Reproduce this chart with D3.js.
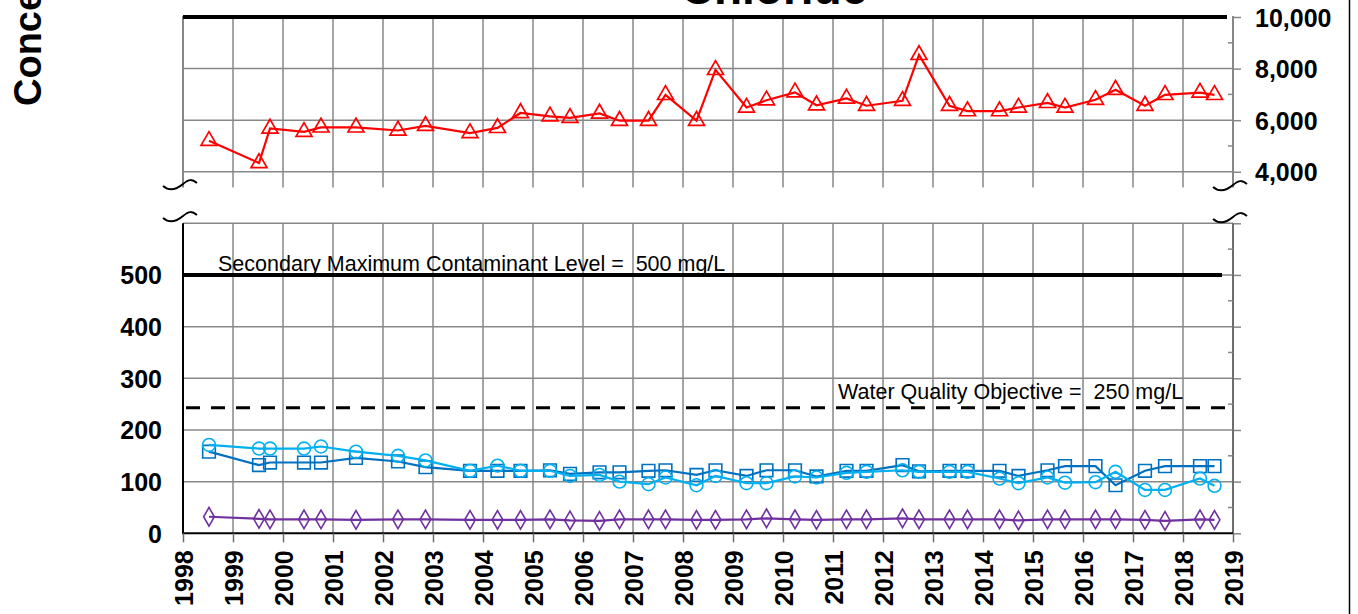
<!DOCTYPE html>
<html><head><meta charset="utf-8">
<script src="https://cdn.jsdelivr.net/npm/d3@7"></script>
<style>
body{margin:0;background:#fff;}
svg{display:block;font-family:Arial,"Liberation Sans",sans-serif;}
</style></head><body>
<svg id="c" width="1358" height="614"></svg>
<script>
// ---------------- data ----------------
const years = d3.range(1998, 2020);
const sampleDates = [1998.52, 1999.52, 1999.74, 2000.42, 2000.76, 2001.46, 2002.30, 2002.85, 2003.74, 2004.29,
  2004.75, 2005.34, 2005.74, 2006.33, 2006.73, 2007.31, 2007.65, 2008.27, 2008.65, 2009.27,
  2009.67, 2010.24, 2010.67, 2011.27, 2011.67, 2012.39, 2012.72, 2013.33, 2013.69, 2014.33,
  2014.71, 2015.29, 2015.64, 2016.25, 2016.65, 2017.24, 2017.64, 2018.34, 2018.63];
const redTriangles = [5200, 4340, 5680, 5550, 5720, 5720, 5600, 5780, 5500, 5700,
  6280, 6150, 6090, 6260, 5980, 5980, 6980, 5980, 7950, 6490,
  6770, 7080, 6580, 6840, 6560, 6750, 8530, 6560, 6350, 6350,
  6490, 6670, 6490, 6790, 7180, 6560, 6980, 7070, 6980];
const blueSquares = [158, 132, 137, 137, 137, 146, 139, 128, 121, 121,
  121, 122, 115, 118, 118, 121, 122, 113, 122, 111,
  122, 122, 110, 121, 121, 132, 120, 121, 121, 121,
  111, 122, 130, 130, 93, 121, 130, 130, 130];
const cyanCircles = [171, 164, 164, 164, 168, 158, 150, 141, 121, 131,
  121, 121, 111, 113, 100, 95, 108, 93, 111, 97,
  97, 110, 108, 117, 119, 122, 119, 119, 119, 106,
  97, 108, 98, 99, 119, 84, 84, 106, 92];
const purpleDiamonds = [32, 28, 27, 27, 27, 26, 27, 27, 26, 26,
  26, 27, 25, 24, 27, 27, 27, 26, 26, 27,
  29, 27, 26, 27, 27, 29, 27, 27, 27, 27,
  25, 27, 27, 27, 27, 26, 24, 27, 26];
const topTickValues = [4000, 6000, 8000, 10000];
const topMinorValues = [5000, 7000, 9000];
const bottomTickValues = [0, 100, 200, 300, 400, 500];
const bottomGridValues = [100, 200, 300, 400, 500, 600];
const bottomMinorValues = [50, 150, 250, 350, 450, 550];
const smclValue = 500;
const wqoLineValue = 243;
const topLineValue = 10000;
const smclLabel = "Secondary Maximum Contaminant Level =  500 mg/L";
const wqoLabel = "Water Quality Objective =  250 mg/L";
const titleText = "Chloride";
const yTitleText = "Concentration, in milligrams per liter";

// ---------------- layout ----------------
const svg = d3.select("#c");
const X0 = 183, X1 = 1233;
const x = d3.scaleLinear().domain([1998, 2019]).range([X0, X1]);
const yTop = d3.scaleLinear().domain([3390, 10000]).range([187.5, 17]);
const yBot = d3.scaleLinear().domain([0, 600]).range([533.3, 223.3]);
const GRID = "#878787";
const font = 'Arial,"Liberation Sans",sans-serif';

// title (mostly cut off at top, as in the source figure)
svg.append("text").attr("x", 774).attr("y", 4).attr("text-anchor", "middle")
  .attr("font-size", 46).attr("font-weight", "bold").text(titleText);
// y title
svg.append("text").attr("transform", "translate(41,106) rotate(-90)")
  .attr("font-size", 38).attr("font-weight", "bold").text(yTitleText);

// ---------- top panel grid ----------
const gTop = svg.append("g");
gTop.selectAll("line.hg").data(topTickValues.filter(v => v < 10000)).join("line")
  .attr("x1", X0).attr("x2", X1).attr("y1", d => yTop(d)).attr("y2", d => yTop(d))
  .attr("stroke", GRID).attr("stroke-width", 1.5);
gTop.selectAll("line.vg").data(years.slice(1, -1)).join("line")
  .attr("x1", d => x(d)).attr("x2", d => x(d)).attr("y1", yTop(10000)).attr("y2", 187.5)
  .attr("stroke", GRID).attr("stroke-width", 1.5);
gTop.append("line").attr("x1", X0).attr("x2", X0).attr("y1", yTop(10000) - 1).attr("y2", 187.5)
  .attr("stroke", GRID).attr("stroke-width", 2);
const topAxis = svg.append("g").attr("transform", `translate(${X1},0)`)
  .call(d3.axisRight(yTop).tickValues(topTickValues).tickSize(8).tickPadding(14)
    .tickFormat(d3.format(",")));
topAxis.select(".domain").remove();
topAxis.append("line").attr("x1", 0).attr("x2", 0).attr("y1", yTop(10000) - 1).attr("y2", 187.5)
  .attr("stroke", GRID).attr("stroke-width", 2);
topAxis.selectAll(".tick line").attr("stroke", GRID).attr("stroke-width", 1.5);
topAxis.selectAll(".tick text").attr("font-size", 25).attr("font-weight", "bold")
  .attr("font-family", font).attr("fill", "#000").attr("dy", "0.36em");
topAxis.selectAll("line.minor").data(topMinorValues).join("line").attr("class", "minor")
  .attr("x1", -5).attr("x2", 0).attr("y1", d => yTop(d)).attr("y2", d => yTop(d))
  .attr("stroke", GRID).attr("stroke-width", 1.5);
svg.append("line").attr("x1", X0).attr("x2", 1227).attr("y1", yTop(topLineValue)).attr("y2", yTop(topLineValue))
  .attr("stroke", "#000").attr("stroke-width", 4);

// red series
const lineTop = d3.line().x((d, i) => x(sampleDates[i])).y(d => yTop(d));
svg.append("path").datum(redTriangles).attr("d", lineTop).attr("fill", "none")
  .attr("stroke", "#FF0000").attr("stroke-width", 2.2);
const tri = d3.symbol().type(d3.symbolTriangle).size(110);
svg.selectAll("path.tri").data(redTriangles).join("path").attr("class", "tri")
  .attr("d", tri).attr("transform", (d, i) => `translate(${x(sampleDates[i])},${yTop(d)})`)
  .attr("fill", "none").attr("stroke", "#FF0000").attr("stroke-width", 1.7);

// ---------- bottom panel ----------
const gBot = svg.append("g");
gBot.selectAll("line.hg").data(bottomGridValues).join("line")
  .attr("x1", X0).attr("x2", X1).attr("y1", d => yBot(d)).attr("y2", d => yBot(d))
  .attr("stroke", GRID).attr("stroke-width", 1.5);
gBot.selectAll("line.vg").data(years.slice(1, -1)).join("line")
  .attr("x1", d => x(d)).attr("x2", d => x(d)).attr("y1", yBot(600)).attr("y2", yBot(0))
  .attr("stroke", GRID).attr("stroke-width", 1.5);

const botRight = svg.append("g").attr("transform", `translate(${X1},0)`)
  .call(d3.axisRight(yBot).tickValues([0, 100, 200, 300, 400, 500, 600]).tickSize(8).tickFormat(""));
botRight.select(".domain").remove();
botRight.append("line").attr("x1", 0).attr("x2", 0).attr("y1", yBot(600)).attr("y2", yBot(0))
  .attr("stroke", "#6d6d6d").attr("stroke-width", 2);
botRight.selectAll(".tick line").attr("stroke", GRID).attr("stroke-width", 1.5);
botRight.selectAll("line.minor").data(bottomMinorValues).join("line").attr("class", "minor")
  .attr("x1", -5).attr("x2", 0).attr("y1", d => yBot(d)).attr("y2", d => yBot(d))
  .attr("stroke", GRID).attr("stroke-width", 1.5);

const botLeft = svg.append("g").attr("transform", `translate(${X0},0)`)
  .call(d3.axisLeft(yBot).tickValues(bottomTickValues).tickSize(0).tickPadding(21));
botLeft.select(".domain").remove();
botLeft.append("line").attr("x1", 0).attr("x2", 0).attr("y1", yBot(600)).attr("y2", yBot(0) + 1)
  .attr("stroke", "#000").attr("stroke-width", 2);
botLeft.selectAll(".tick text").attr("font-size", 25).attr("font-weight", "bold")
  .attr("font-family", font).attr("fill", "#000").attr("dy", "0.36em");

const xAxis = svg.append("g").attr("transform", `translate(0,${yBot(0)})`)
  .call(d3.axisBottom(x).tickValues(years).tickSize(9).tickFormat(d3.format("d")));
xAxis.select(".domain").attr("stroke", "#000").attr("stroke-width", 2)
  .attr("d", `M${X0},0H${X1}`);
xAxis.selectAll(".tick line").attr("stroke", "#6d6d6d").attr("stroke-width", 1.5);
xAxis.selectAll(".tick text").attr("font-size", 25).attr("font-weight", "bold")
  .attr("font-family", font).attr("fill", "#000")
  .attr("text-anchor", "end").attr("transform", "translate(0,17) rotate(-90)")
  .attr("x", 0).attr("y", 0).attr("dy", "0.36em");

// reference lines
svg.append("line").attr("x1", X0).attr("x2", 1222).attr("y1", yBot(smclValue)).attr("y2", yBot(smclValue))
  .attr("stroke", "#000").attr("stroke-width", 4);
svg.append("line").attr("x1", 186).attr("x2", 1228).attr("y1", yBot(wqoLineValue)).attr("y2", yBot(wqoLineValue))
  .attr("stroke", "#000").attr("stroke-width", 3).attr("stroke-dasharray", "14,11");
svg.append("text").attr("x", 218).attr("y", 271).attr("font-size", 21.5)
  .style("white-space", "pre").text(smclLabel);
svg.append("text").attr("x", 838).attr("y", 399).attr("font-size", 21.5)
  .style("white-space", "pre").text(wqoLabel);

function series(vals, color, symType, size) {
  const ln = d3.line().x((d, i) => x(sampleDates[i])).y(d => yBot(d));
  svg.append("path").datum(vals).attr("d", ln).attr("fill", "none")
    .attr("stroke", color).attr("stroke-width", 2.2);
  const sym = d3.symbol().type(symType).size(size);
  svg.append("g").selectAll("path").data(vals).join("path").attr("d", sym)
    .attr("transform", (d, i) => `translate(${x(sampleDates[i])},${yBot(d)})`)
    .attr("fill", "none").attr("stroke", color).attr("stroke-width", 1.6);
}
series(purpleDiamonds, "#7030A0", d3.symbolDiamond, 100);
series(blueSquares, "#0070C0", d3.symbolSquare, 160);
series(cyanCircles, "#00B0F0", d3.symbolCircle, 130);

function squiggle(cx, cy) {
  svg.append("path")
    .attr("d", `M${cx - 20},${cy + 1} C${cx - 13},${cy + 7} ${cx - 6},${cy + 4} ${cx},${cy - 1} S${cx + 9},${cy - 6} ${cx + 14},${cy - 2}`)
    .attr("fill", "none").attr("stroke", "#000").attr("stroke-width", 2);
}
squiggle(X0, 185); squiggle(X0, 217);
squiggle(X1, 186); squiggle(X1, 218);

svg.append("line").attr("x1", 1349.5).attr("x2", 1349.5).attr("y1", 0).attr("y2", 614)
  .attr("stroke", "#000").attr("stroke-width", 1.5);
</script>
</body></html>
